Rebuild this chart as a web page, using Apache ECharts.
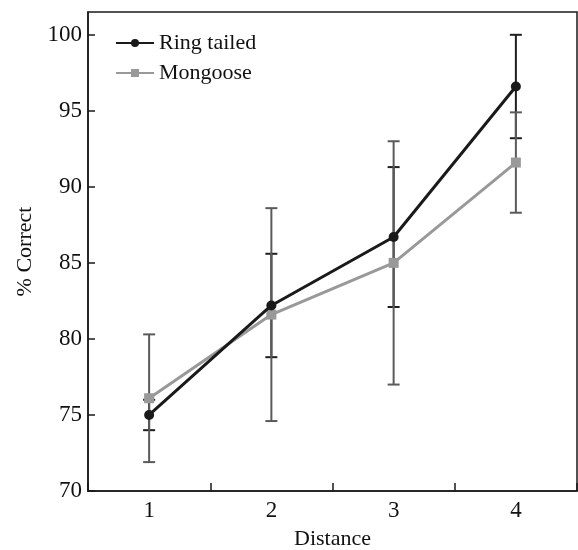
<!DOCTYPE html>
<html>
<head>
<meta charset="utf-8">
<script src="https://cdn.jsdelivr.net/npm/echarts@6/dist/echarts.min.js"></script>
<style>
html,body{margin:0;padding:0;background:#fff;overflow:hidden;}
#chart{width:578px;height:550px;}
</style>
</head>
<body>
<div id="chart"></div>
<script>
var categories = ['1', '2', '3', '4'];
var ringTailed = [75.0, 82.2, 86.7, 96.6];
var ringTailedErr = [1.0, 3.4, 4.6, 3.4];
var mongoose = [76.1, 81.6, 85.0, 91.6];
var mongooseErr = [4.2, 7.0, 8.0, 3.3];
var yTicks = [70, 75, 80, 85, 90, 95, 100];

var FONT = '"Liberation Serif", "DejaVu Serif", serif';

function errData(vals, errs) {
  return vals.map(function (v, i) { return [i, v, errs[i]]; });
}
function errRender(color) {
  return function (params, api) {
    var x = api.value(0), v = api.value(1), e = api.value(2);
    var hi = api.coord([x, v + e]);
    var lo = api.coord([x, v - e]);
    var w = 6;
    var style = { stroke: color, lineWidth: 2 };
    return {
      type: 'group',
      children: [
        { type: 'line', shape: { x1: hi[0], y1: hi[1], x2: lo[0], y2: lo[1] }, style: style },
        { type: 'line', shape: { x1: hi[0] - w, y1: hi[1], x2: hi[0] + w, y2: hi[1] }, style: style },
        { type: 'line', shape: { x1: lo[0] - w, y1: lo[1], x2: lo[0] + w, y2: lo[1] }, style: style }
      ]
    };
  };
}

var el = document.getElementById('chart');
var chart = echarts.init(el, null, { renderer: 'canvas', width: 578, height: 550 });
chart.setOption({
  animation: false,
  backgroundColor: '#fff',
  textStyle: { fontFamily: FONT },
  grid: {
    left: 88, right: 1, top: 12, bottom: 59,
    containLabel: false,
    outerBoundsMode: 'none',
    show: true, borderColor: '#1a1a1a', borderWidth: 1.5, backgroundColor: 'transparent'
  },
  legend: {
    orient: 'vertical',
    left: 110, top: 27,
    itemWidth: 38, itemHeight: 10, itemGap: 8,
    textStyle: { fontFamily: FONT, fontSize: 22, color: '#111' },
    data: ['Ring tailed', 'Mongoose']
  },
  xAxis: {
    type: 'category',
    data: categories,
    boundaryGap: true,
    name: 'Distance',
    nameLocation: 'middle',
    nameGap: 37,
    nameTextStyle: { fontFamily: FONT, fontSize: 22, color: '#111' },
    axisLine: { lineStyle: { color: '#1a1a1a', width: 1.5 } },
    axisTick: { show: true, inside: true, length: 8, lineStyle: { color: '#1a1a1a', width: 1.5 } },
    axisLabel: { fontFamily: FONT, fontSize: 23, color: '#111', margin: 8 },
    splitLine: { show: false }
  },
  yAxis: {
    type: 'value',
    min: 70, max: 101.5, interval: 5,
    name: '% Correct',
    nameLocation: 'middle',
    nameGap: 52,
    nameRotate: 90,
    nameTextStyle: { fontFamily: FONT, fontSize: 22, color: '#111' },
    axisLine: { show: true, lineStyle: { color: '#1a1a1a', width: 1.5 } },
    axisTick: { show: true, inside: true, length: 7, lineStyle: { color: '#1a1a1a', width: 1.5 } },
    axisLabel: {
      fontFamily: FONT, fontSize: 23, color: '#111', margin: 6, showMaxLabel: false,
      formatter: function (v) { return yTicks.indexOf(v) >= 0 ? String(v) : ''; }
    },
    splitLine: { show: false }
  },
  series: [
    {
      type: 'custom', name: 'errRing', renderItem: errRender('#1e1e1e'),
      data: errData(ringTailed, ringTailedErr), encode: { x: 0, y: 1 }, z: 1, silent: true
    },
    {
      type: 'custom', name: 'errMongoose', renderItem: errRender('#5a5a5a'),
      data: errData(mongoose, mongooseErr), encode: { x: 0, y: 1 }, z: 1, silent: true
    },
    {
      type: 'line', name: 'Mongoose', data: mongoose,
      symbol: 'rect', symbolSize: 10,
      lineStyle: { color: '#999', width: 3 },
      itemStyle: { color: '#999' },
      z: 3
    },
    {
      type: 'line', name: 'Ring tailed', data: ringTailed,
      symbol: 'circle', symbolSize: 10,
      lineStyle: { color: '#1a1a1a', width: 3 },
      itemStyle: { color: '#1a1a1a' },
      z: 4
    }
  ]
});
</script>
</body>
</html>
